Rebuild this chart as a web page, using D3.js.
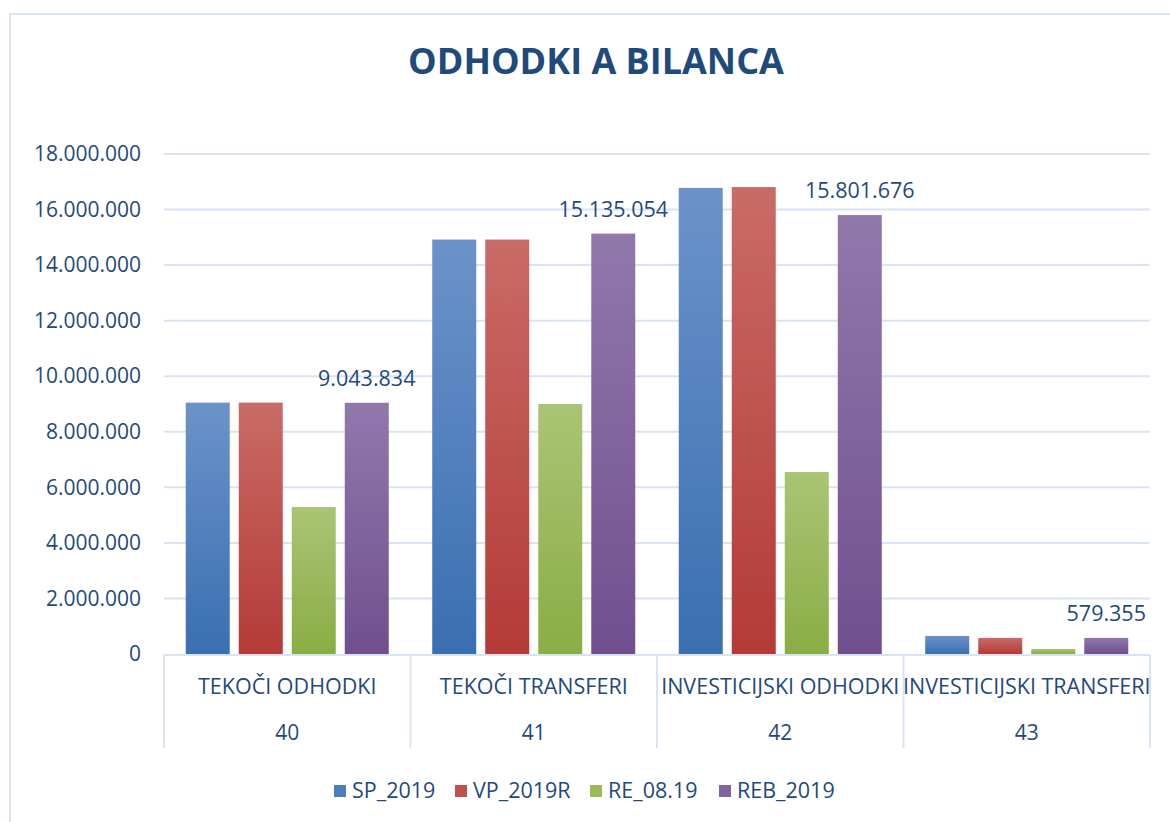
<!DOCTYPE html>
<html>
<head>
<meta charset="utf-8">
<script src="https://cdn.jsdelivr.net/npm/d3@7"></script>
<style>
  body { margin: 0; background: #fff; }
  svg { display: block; font-family: 'Open Sans', sans-serif; }
</style>
</head>
<body>
<div id="chart"></div>
<script>
// chart data
const categories = ['TEKOČI ODHODKI', 'TEKOČI TRANSFERI', 'INVESTICIJSKI ODHODKI', 'INVESTICIJSKI TRANSFERI'];
const codes = ['40', '41', '42', '43'];
const seriesNames = ['SP_2019', 'VP_2019R', 'RE_08.19', 'REB_2019'];
const sp2019 = [9050000, 14920000, 16780000, 650000];
const vp2019r = [9050000, 14920000, 16810000, 580000];
const re0819 = [5290000, 9000000, 6550000, 180000];
const reb2019 = [9043834, 15135054, 15801676, 579355];
const yTicks = [0, 2000000, 4000000, 6000000, 8000000, 10000000, 12000000, 14000000, 16000000, 18000000];

const seriesValues = [sp2019, vp2019r, re0819, reb2019];
const colors = [
  { top: '#6b93c9', bottom: '#3a6fb2', legend: '#4a7ebf' },
  { top: '#c96b67', bottom: '#b43a37', legend: '#c0504d' },
  { top: '#a9c574', bottom: '#8aad44', legend: '#9bbb59' },
  { top: '#9178ab', bottom: '#714f8f', legend: '#8064a2' }
];
const textColor = '#1f4a7c';
const gridColor = '#d9e4f3';

const width = 1170, height = 822;
const svg = d3.select('#chart').append('svg')
  .attr('width', width)
  .attr('height', height);

// gradients
const defs = svg.append('defs');
colors.forEach((c, i) => {
  const g = defs.append('linearGradient')
    .attr('id', 'grad' + i)
    .attr('x1', 0).attr('y1', 0).attr('x2', 0).attr('y2', 1);
  g.append('stop').attr('offset', '0%').attr('stop-color', c.top);
  g.append('stop').attr('offset', '100%').attr('stop-color', c.bottom);
});

// outer frame
svg.append('rect')
  .attr('x', 10).attr('y', 14)
  .attr('width', 1200).attr('height', 900)
  .attr('fill', 'none')
  .attr('stroke', gridColor)
  .attr('stroke-width', 2);

const fmt = d3.formatLocale({ decimal: ',', thousands: '.', grouping: [3], currency: ['', ''] }).format(',d');

const x0 = d3.scaleBand().domain(categories).range([164, 1150]);
const x1 = d3.scaleBand().domain(seriesNames)
  .range([0, x0.bandwidth()])
  .paddingInner(0.17)
  .paddingOuter(0.41);
const y = d3.scaleLinear().domain([0, 18000000]).range([654, 154]);

// title
svg.append('text')
  .attr('x', 596).attr('y', 74)
  .attr('text-anchor', 'middle')
  .attr('fill', textColor)
  .style('font-size', '36px')
  .style('font-weight', 'bold')
  .text('ODHODKI A BILANCA');

// y gridlines
svg.append('g').selectAll('line')
  .data(yTicks.filter(d => d > 0))
  .join('line')
  .attr('x1', 164).attr('x2', 1150)
  .attr('y1', d => y(d)).attr('y2', d => y(d))
  .attr('stroke', gridColor)
  .attr('stroke-width', 2);

// y axis labels
const yAxis = svg.append('g')
  .attr('transform', 'translate(141,0)')
  .call(d3.axisLeft(y).tickValues(yTicks).tickFormat(fmt).tickSize(0).tickPadding(0));
yAxis.select('.domain').remove();
yAxis.selectAll('text')
  .attr('fill', textColor)
  .style('font-size', '21px')
  .style('font-family', "'Open Sans', sans-serif");

// bars
const groups = svg.append('g').selectAll('g')
  .data(categories)
  .join('g')
  .attr('transform', d => `translate(${x0(d)},0)`);

groups.selectAll('rect')
  .data((d, ci) => seriesNames.map((s, si) => ({ s, si, v: seriesValues[si][ci] })))
  .join('rect')
  .attr('x', d => x1(d.s))
  .attr('width', x1.bandwidth())
  .attr('y', d => y(d.v))
  .attr('height', d => y(0) - y(d.v))
  .attr('fill', d => `url(#grad${d.si})`);

// data labels for REB_2019
groups.append('text')
  .attr('x', x1('REB_2019') + x1.bandwidth() / 2)
  .attr('y', (d, ci) => y(reb2019[ci]) - 17)
  .attr('text-anchor', 'middle')
  .attr('fill', textColor)
  .style('font-size', '21.5px')
  .text((d, ci) => fmt(reb2019[ci]));

// category axis
const axisG = svg.append('g');
axisG.append('line')
  .attr('x1', 164).attr('x2', 1150)
  .attr('y1', 655).attr('y2', 655)
  .attr('stroke', gridColor).attr('stroke-width', 2);
axisG.selectAll('line.div')
  .data(categories.map(c => x0(c)).concat([x0.range()[1]]))
  .join('line')
  .attr('class', 'div')
  .attr('x1', d => d).attr('x2', d => d)
  .attr('y1', 655).attr('y2', 748)
  .attr('stroke', gridColor).attr('stroke-width', 2);

axisG.selectAll('text.cat')
  .data(categories)
  .join('text')
  .attr('class', 'cat')
  .attr('x', d => x0(d) + x0.bandwidth() / 2)
  .attr('y', 694)
  .attr('text-anchor', 'middle')
  .attr('fill', textColor)
  .style('font-size', '21.5px')
  .text(d => d);

axisG.selectAll('text.code')
  .data(codes)
  .join('text')
  .attr('class', 'code')
  .attr('x', (d, i) => x0(categories[i]) + x0.bandwidth() / 2)
  .attr('y', 740)
  .attr('text-anchor', 'middle')
  .attr('fill', textColor)
  .style('font-size', '21px')
  .text(d => d);

// legend
const legendX = [334, 455, 590, 719];
const legend = svg.append('g').selectAll('g')
  .data(seriesNames)
  .join('g')
  .attr('transform', (d, i) => `translate(${legendX[i]},785)`);
legend.append('rect')
  .attr('width', 12).attr('height', 12)
  .attr('fill', (d, i) => colors[i].legend);
legend.append('text')
  .attr('x', 18).attr('y', 13)
  .attr('fill', textColor)
  .style('font-size', '21.5px')
  .text(d => d);
</script>
</body>
</html>
